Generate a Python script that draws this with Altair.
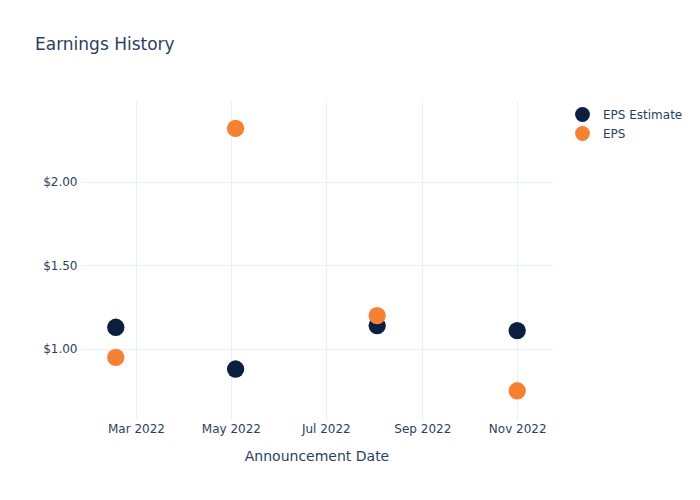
import altair as alt
import pandas as pd

dates = ["2022-02-16T00:00", "2022-05-04T00:00", "2022-08-03T00:00", "2022-11-01T00:00"]
eps_estimate = [1.13, 0.88, 1.14, 1.11]
eps_actual = [0.95, 2.32, 1.20, 0.75]
series_names = ["EPS Estimate", "EPS"]
series_colors = ["#0c1f40", "#f58232"]

rows = []
for d, v in zip(dates, eps_estimate):
    rows.append({"date": d, "value": v, "series": "EPS Estimate", "order": 0})
for d, v in zip(dates, eps_actual):
    rows.append({"date": d, "value": v, "series": "EPS", "order": 1})
df = pd.DataFrame(rows)

text_color = "#2a3f5f"
grid_color = "#ebf0f8"

x_ticks = [alt.DateTime(year=2022, month=m, date=1) for m in ["mar", "may", "jul", "sep", "nov"]]

chart = alt.Chart(df).mark_circle(size=300, opacity=1).encode(
    x=alt.X("date:T",
            scale=alt.Scale(domain=[alt.DateTime(year=2022, month="jan", date=24),
                                    alt.DateTime(year=2022, month="nov", date=24)]),
            axis=alt.Axis(title="Announcement Date", values=x_ticks, format="%b %Y",
                          labelFontSize=12, labelColor=text_color, titleFontSize=14,
                          titleColor=text_color, titleFontWeight="normal", titlePadding=15,
                          labelPadding=3, ticks=False, domain=False, gridColor=grid_color,
                          labelFont="DejaVu Sans", titleFont="DejaVu Sans")),
    y=alt.Y("value:Q",
            scale=alt.Scale(domain=[0.575, 2.49], nice=False, zero=False),
            axis=alt.Axis(title=None, values=[1.0, 1.5, 2.0], format="$.2f",
                          labelFontSize=12, labelColor=text_color, labelPadding=3,
                          ticks=False, domain=False, gridColor=grid_color,
                          labelFont="DejaVu Sans")),
    color=alt.Color("series:N",
                    scale=alt.Scale(domain=series_names, range=series_colors),
                    legend=alt.Legend(title=None, orient="none", legendX=494, legendY=6,
                                      symbolSize=220, symbolType="circle", symbolOpacity=1,
                                      labelFontSize=12, labelColor=text_color,
                                      labelFont="DejaVu Sans", rowPadding=3, padding=0,
                                      labelOffset=12)),
    order=alt.Order("order:Q"),
).properties(
    width=473,
    height=320,
    title=alt.TitleParams("Earnings History", anchor="start", frame="group", dx=-45, offset=46,
                          fontSize=17, color=text_color, fontWeight="normal",
                          font="DejaVu Sans"),
    autosize=alt.AutoSizeParams(type="none"),
    padding={"left": 80, "top": 100, "right": 147, "bottom": 80},
).configure(background="white").configure_view(stroke=None)

chart.save("out.html", embed_options={"renderer": "svg", "actions": False})
